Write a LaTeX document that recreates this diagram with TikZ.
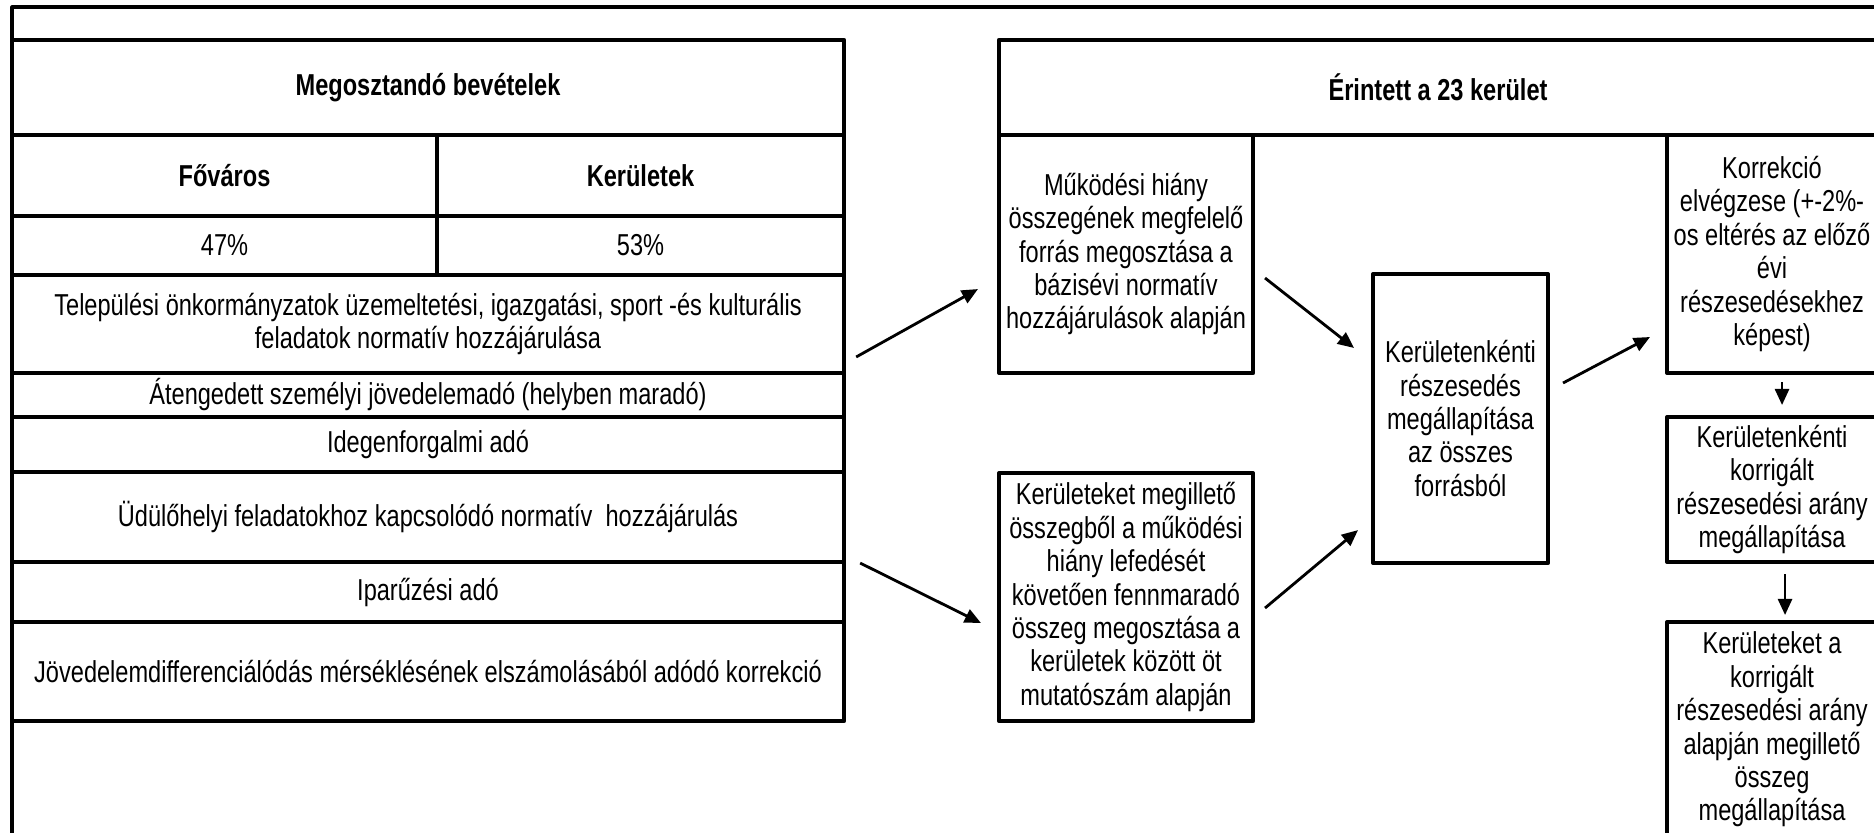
\documentclass[tikz,border=0pt]{standalone}
\usepackage{fontspec}
\setmainfont{Liberation Sans}[FakeStretch=0.78]
\usetikzlibrary{arrows.meta}
\newcommand\cellfont{\fontsize{8.6}{9.5}\selectfont\setlength{\lineskiplimit}{-20pt}}

\begin{document}
\begin{tikzpicture}[x=0.01cm,y=-0.01cm,line join=round,
    cell/.style={draw,line width=1.1pt,inner sep=0pt,align=center,font=\cellfont},
    hd/.style={cell,font=\cellfont\bfseries},
    arr/.style={line width=0.8pt,-{Triangle[length=4.6pt,width=4pt]}}]
\useasboundingbox (0,0) rectangle (1874,832);
\clip (0,0) rectangle (1874,832);
\draw[line width=0.9pt] (12,7) rectangle (1900,860);

\node[hd,minimum width=8.32cm,minimum height=0.95cm] (megoszt) at (428,87.5) {Megosztandó bevételek};
\node[hd,minimum width=4.25cm,minimum height=0.81cm] (fovaros) at (224.5,175.5) {Főváros};
\node[hd,minimum width=4.07cm,minimum height=0.81cm] (kerek) at (640.5,175.5) {Kerületek};
\node[cell,minimum width=4.25cm,minimum height=0.59cm] (fovszaz) at (224.5,245.5) {47\%};
\node[cell,minimum width=4.07cm,minimum height=0.59cm] (kerszaz) at (640.5,245.5) {53\%};
\node[cell,minimum width=8.32cm,minimum height=0.98cm] (telep) at (428,324) {Települési önkormányzatok üzemeltetési, igazgatási, sport -és kulturális\\feladatok normatív hozzájárulása};
\node[cell,minimum width=8.32cm,minimum height=0.44cm] (szja) at (428,395) {Átengedett személyi jövedelemadó (helyben maradó)};
\node[cell,minimum width=8.32cm,minimum height=0.55cm] (idegen) at (428,444.5) {Idegenforgalmi adó};
\node[cell,minimum width=8.32cm,minimum height=0.90cm] (udulo) at (428,517) {Üdülőhelyi feladatokhoz kapcsolódó normatív\ \ hozzájárulás};
\node[cell,minimum width=8.32cm,minimum height=0.60cm] (ipar) at (428,592) {Iparűzési adó};
\node[cell,minimum width=8.32cm,minimum height=0.99cm] (jovdiff) at (428,671.5) {Jövedelemdifferenciálódás mérséklésének elszámolásából adódó korrekció};

\node[hd,minimum width=8.78cm,minimum height=0.95cm] (erintett) at (1438,87.5) {Érintett a 23 kerület};
\node[cell,minimum width=2.54cm,minimum height=2.38cm] (hiany) at (1126,254) {Működési hiány\\összegének megfelelő\\forrás megosztása a\\bázisévi normatív\\hozzájárulások alapján};
\node[cell,minimum width=2.54cm,minimum height=2.48cm] (maradek) at (1126,597) {Kerületeket megillető\\összegből a működési\\hiány lefedését\\követően fennmaradó\\összeg megosztása a\\kerületek között öt\\mutatószám alapján};
\node[cell,minimum width=1.75cm,minimum height=2.89cm] (reszes) at (1460.5,418.5) {Kerületenkénti\\részesedés\\megállapítása\\az összes\\forrásból};
\node[cell,minimum width=2.10cm,minimum height=2.38cm] (korr) at (1772,254) {Korrekció\\elvégzese (+-2\%-\\os eltérés az előző\\évi\\részesedésekhez\\képest)};
\node[cell,minimum width=2.10cm,minimum height=1.45cm] (korrarany) at (1772,489.5) {Kerületenkénti\\korrigált\\részesedési arány\\megállapítása};
\node[cell,minimum width=2.10cm,minimum height=2.15cm] (osszeg) at (1772,729.5) {Kerületeket a\\korrigált\\részesedési arány\\alapján megillető\\összeg\\megállapítása};

\draw[arr] ([xshift=0.1cm,yshift=0.18cm]telep.south east) -- ([xshift=-0.19cm,yshift=-0.35cm]hiany.west);
\draw[arr] ([xshift=0.14cm,yshift=-0.03cm]ipar.north east) -- ([xshift=-0.16cm,yshift=-0.26cm]maradek.west);
\draw[arr] ([xshift=0.1cm,yshift=-0.24cm]hiany.east) -- ([xshift=-0.17cm,yshift=0.705cm]reszes.west);
\draw[arr] ([xshift=0.1cm,yshift=-0.11cm]maradek.east) -- ([xshift=-0.13cm,yshift=-1.115cm]reszes.west);
\draw[arr] ([xshift=0.13cm,yshift=0.355cm]reszes.east) -- ([xshift=-0.15cm,yshift=0.38cm]korr.south west);
\draw[arr] ([xshift=0.1cm,yshift=-0.07cm]korr.south) -- ([xshift=0.1cm,yshift=0.1cm]korrarany.north);
\draw[arr] ([xshift=0.13cm,yshift=-0.1cm]korrarany.south) -- ([xshift=0.13cm,yshift=0.05cm]osszeg.north);
\end{tikzpicture}
\end{document}
